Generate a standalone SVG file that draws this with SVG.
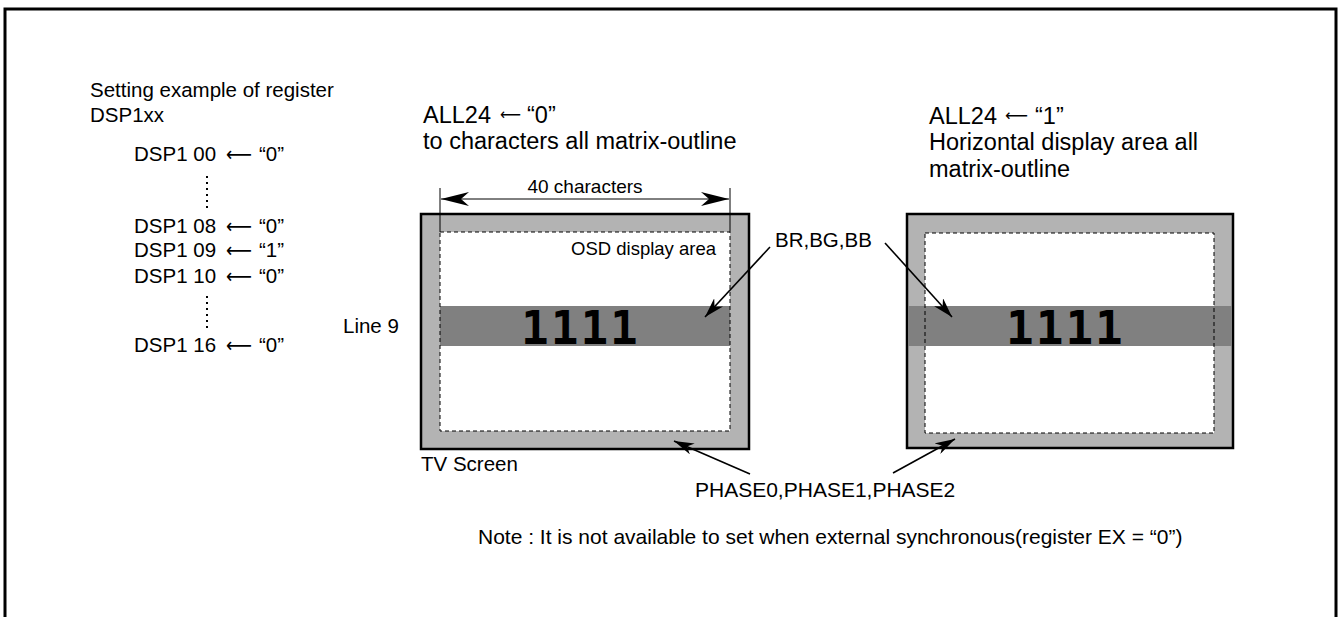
<svg xmlns="http://www.w3.org/2000/svg" width="1339" height="617" viewBox="0 0 1339 617">
<style>
text{font-family:"Liberation Sans",Arial,sans-serif;fill:#000}
.t{font-size:20.5px}
.h{font-size:23.5px}
.s{font-size:18.5px}
.a{font-family:"DejaVu Sans",sans-serif}
.ha{font-family:"DejaVu Sans",sans-serif;font-size:16px}
.big{font-family:"DejaVu Sans Mono",monospace;font-weight:bold;font-size:46px;letter-spacing:2px}
.scr{fill:#b3b3b3;stroke:#000;stroke-width:2.5}
.in{fill:#fff}
.dash{fill:none;stroke:#000;stroke-width:1;stroke-dasharray:4 3}
.band{fill:#808080}
.ln{stroke:#000;stroke-width:1.6;fill:none}
.dim{stroke:#000;stroke-width:1;fill:none}
.dot{stroke:#000;stroke-width:2;stroke-dasharray:2 4}
</style>
<defs>
<marker id="ah" viewBox="0 0 20 12" refX="20" refY="6" markerWidth="20" markerHeight="12" markerUnits="userSpaceOnUse" orient="auto">
<path d="M0,0 L20,6 L0,12 L6,6 z" fill="#000"/>
</marker>
<marker id="dh" viewBox="0 0 28 14" refX="28" refY="7" markerWidth="28" markerHeight="14" markerUnits="userSpaceOnUse" orient="auto">
<path d="M0,0 L28,7 L0,14 L8,7 z" fill="#000"/>
</marker>
</defs>
<rect x="5" y="9" width="1331" height="640" fill="none" stroke="#000" stroke-width="3"/>

<g id="register-list">
<text class="t" x="90" y="97">Setting example of register</text>
<text class="t" x="90" y="122">DSP1xx</text>
<text class="t" y="161"><tspan x="134">DSP1 00</tspan><tspan class="a" x="226" textLength="26" lengthAdjust="spacingAndGlyphs">⟵</tspan><tspan x="259">“0”</tspan></text>
<line class="dot" x1="207" y1="176" x2="207" y2="208"/>
<text class="t" y="233"><tspan x="134">DSP1 08</tspan><tspan class="a" x="226" textLength="26" lengthAdjust="spacingAndGlyphs">⟵</tspan><tspan x="259">“0”</tspan></text>
<text class="t" y="257"><tspan x="134">DSP1 09</tspan><tspan class="a" x="226" textLength="26" lengthAdjust="spacingAndGlyphs">⟵</tspan><tspan x="259">“1”</tspan></text>
<text class="t" y="283"><tspan x="134">DSP1 10</tspan><tspan class="a" x="226" textLength="26" lengthAdjust="spacingAndGlyphs">⟵</tspan><tspan x="259">“0”</tspan></text>
<line class="dot" x1="207" y1="296" x2="207" y2="328"/>
<text class="t" y="352"><tspan x="134">DSP1 16</tspan><tspan class="a" x="226" textLength="26" lengthAdjust="spacingAndGlyphs">⟵</tspan><tspan x="259">“0”</tspan></text>
<text class="t" x="343" y="333">Line 9</text>
</g>

<g id="screen-left">
<text class="h" y="123"><tspan x="423">ALL24</tspan><tspan class="ha" x="500" dy="-3" textLength="21" lengthAdjust="spacingAndGlyphs">⟵</tspan><tspan x="527" dy="3">“0”</tspan></text>
<text class="h" x="423" y="149">to characters all matrix-outline</text>
<rect class="scr" x="421" y="214" width="328" height="235"/>
<rect class="in" x="440" y="232" width="290" height="199"/>
<rect class="band" x="440" y="306" width="290" height="40"/>
<rect class="dash" x="440" y="232" width="290" height="199"/>
<text class="big" x="521" y="344">1111</text>
<text class="s" x="571" y="255">OSD display area</text>
<text class="t" x="421" y="471">TV Screen</text>
</g>

<g id="screen-right">
<text class="h" y="124"><tspan x="929">ALL24</tspan><tspan class="ha" x="1005" dy="-3" textLength="23" lengthAdjust="spacingAndGlyphs">⟵</tspan><tspan x="1035" dy="3">“1”</tspan></text>
<text class="h" x="929" y="150">Horizontal display area all</text>
<text class="h" x="929" y="177">matrix-outline</text>
<rect class="scr" x="907" y="214" width="326" height="234"/>
<rect class="in" x="925" y="233" width="289" height="200"/>
<rect class="band" x="908" y="306" width="324" height="40"/>
<rect class="dash" x="925" y="233" width="289" height="200"/>
<text class="big" x="1006" y="344">1111</text>
</g>

<g id="labels">
<text class="t" x="775" y="247">BR,BG,BB</text>
<text x="695" y="497" font-size="21">PHASE0,PHASE1,PHASE2</text>
<text x="478" y="544" font-size="21">Note : It is not available to set when external synchronous(register EX = “0”)</text>
<text x="585" y="193" font-size="19" text-anchor="middle">40 characters</text>
</g>

<g id="connectors">
<line class="dim" x1="440" y1="188" x2="440" y2="232"/>
<line class="dim" x1="730" y1="188" x2="730" y2="232"/>
<line class="dim" x1="585" y1="199" x2="441" y2="199" marker-end="url(#dh)"/>
<line class="dim" x1="585" y1="199" x2="729" y2="199" marker-end="url(#dh)"/>
<line class="ln" x1="770" y1="247" x2="705" y2="317" marker-end="url(#ah)"/>
<line class="ln" x1="885" y1="243" x2="952" y2="317" marker-end="url(#ah)"/>
<line class="ln" x1="750" y1="474" x2="674" y2="441" marker-end="url(#ah)"/>
<line class="ln" x1="893" y1="473" x2="955" y2="439" marker-end="url(#ah)"/>
</g>
</svg>
